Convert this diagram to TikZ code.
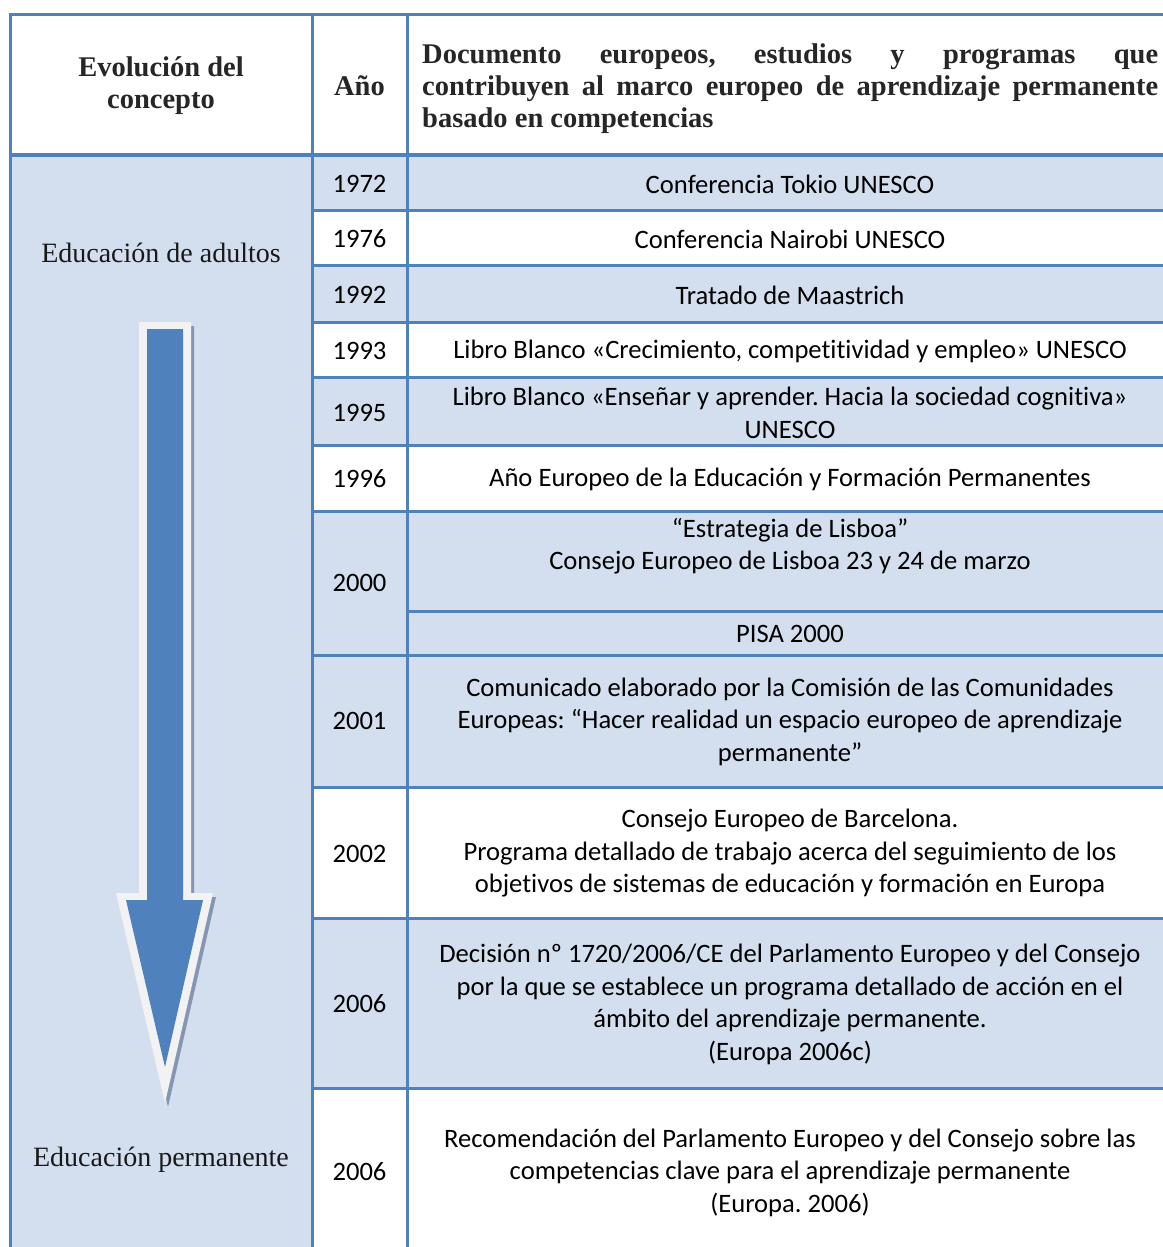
\documentclass[tikz,border=0pt]{standalone}
\usepackage{fontspec}
\setmainfont{Carlito}[Ligatures=NoCommon]
\newfontfamily\hdrfont{Liberation Serif}
\definecolor{tblue}{HTML}{4F81BD}
\definecolor{tlight}{HTML}{D3DFEE}
\definecolor{awhite}{HTML}{F2F2F2}
\definecolor{ashadow}{HTML}{8596B3}
\frenchspacing
\begin{document}
\begin{tikzpicture}[x=1pt,y=-1pt,
  txt/.style={font=\frenchspacing\fontsize{26.6}{32.5}\selectfont, align=center, inner sep=0pt, text=black},
  yr/.style={txt},
  hd/.style={font=\hdrfont\bfseries\fontsize{28.5}{32}\selectfont, text=black!85, inner sep=0pt, align=center},
  side/.style={font=\hdrfont\fontsize{28}{32}\selectfont, inner sep=0pt, text=black!90},
  grid/.style={draw=tblue, line width=3pt}]
\useasboundingbox (0,0) rectangle (1162,1247);
\fill[white] (0,0) rectangle (1162,1247);
% fills
\fill[tlight] (10.7,155) rectangle (312,1260);
\foreach \a/\b in {155/210,265/322,377/445,511/787,918/1088}
  \fill[tlight] (312,\a) rectangle (1175,\b);
% grid lines
\draw[grid] (9.2,14.7) -- (1175,14.7);
\draw[grid] (10.7,13.2) -- (10.7,1260);
\draw[grid] (312,13.2) -- (312,1260);
\draw[grid] (407.5,13.2) -- (407.5,1260);
\foreach \y in {210,265,322,377,445,511,655,787,918,1088}
  \draw[grid] (312,\y) -- (1175,\y);
\draw[grid] (407.5,611) -- (1175,611);
\draw[grid, line width=4pt] (9.2,155.3) -- (1175,155.3);
% arrow
\fill[ashadow] (142,326) -- (194,326) -- (194,897) -- (216,897) -- (168,1107) -- (119,897) -- (142,897) -- cycle;
\fill[awhite] (139,322) -- (191,322) -- (191,893) -- (213,893) -- (165,1103) -- (116,893) -- (139,893) -- cycle;
\fill[tblue] (147,329) -- (183,329) -- (183,900) -- (203,900) -- (165,1067) -- (126,900) -- (147,900) -- cycle;
% header
\node[hd] (h1) at (161,86) {Evolución del\\concepto};
\node[hd] (h2) at (359.5,86) {Año};
\node[hd, align=justify, text width=736pt, anchor=north west] (h3) at (422,44)
  {Documento europeos, estudios y programas que\linebreak contribuyen al marco europeo de aprendizaje permanente\linebreak basado en competencias};
% side labels
\node[side] (s1) at (161,253) {Educación de adultos};
\node[side] (s2) at (161,1160) {Educación permanente};
% years
\node[yr] (y1) at (359.5,184) {1972};
\node[yr] (y2) at (359.5,239) {1976};
\node[yr] (y3) at (359.5,295) {1992};
\node[yr] (y4) at (359.5,351) {1993};
\node[yr] (y5) at (359.5,413) {1995};
\node[yr] (y6) at (359.5,479) {1996};
\node[yr] (y7) at (359.5,583) {2000};
\node[yr] (y8) at (359.5,721) {2001};
\node[yr] (y9) at (359.5,854) {2002};
\node[yr] (y10) at (359.5,1004) {2006};
\node[yr] (y11) at (359.5,1172) {2006};
% documents
\node[txt] (d1) at (790,184) {Conferencia Tokio UNESCO};
\node[txt] (d2) at (790,239) {Conferencia Nairobi UNESCO};
\node[txt] (d3) at (790,295) {Tratado de Maastrich};
\node[txt] (d4) at (790,351) {Libro Blanco «Crecimiento, competitividad y empleo» UNESCO};
\node[txt] (d5) at (790,413) {Libro Blanco «Enseñar y aprender. Hacia la sociedad cognitiva»\\UNESCO};
\node[txt] (d6) at (790,479) {Año Europeo de la Educación y Formación Permanentes};
\node[txt] (d7) at (790,546) {“Estrategia de Lisboa”\\Consejo Europeo de Lisboa 23 y 24 de marzo};
\node[txt] (d8) at (790,634) {PISA 2000};
\node[txt] (d9) at (790,721.5) {Comunicado elaborado por la Comisión de las Comunidades\\Europeas: “Hacer realidad un espacio europeo de aprendizaje\\permanente”};
\node[txt] (d10) at (790,853.5) {Consejo Europeo de Barcelona.\\Programa detallado de trabajo acerca del seguimiento de los\\objetivos de sistemas de educación y formación en Europa};
\node[txt] (d11) at (790,1004.5) {Decisión nº 1720/2006/CE del Parlamento Europeo y del Consejo\\por la que se establece un programa detallado de acción en el\\ámbito del aprendizaje permanente.\\(Europa 2006c)};
\node[txt] (d12) at (790,1172.5) {Recomendación del Parlamento Europeo y del Consejo sobre las\\competencias clave para el aprendizaje permanente\\(Europa. 2006)};
\end{tikzpicture}
\end{document}
